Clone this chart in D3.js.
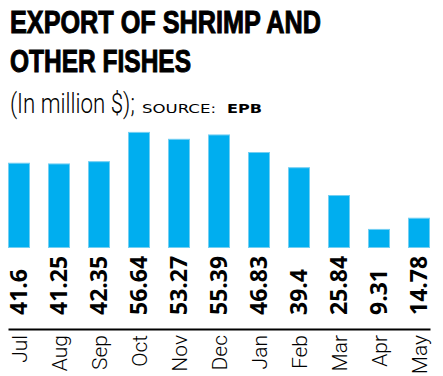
<!DOCTYPE html>
<html><head><meta charset="utf-8">
<script src="https://cdn.jsdelivr.net/npm/d3@7"></script>
<style>
body{margin:0;background:#fff;}
svg{display:block;}
</style></head>
<body>
<svg id="c" width="443" height="376"></svg>
<script>
const months = ["Jul","Aug","Sep","Oct","Nov","Dec","Jan","Feb","Mar","Apr","May"];
const values = [41.6,41.25,42.35,56.64,53.27,55.39,46.83,39.4,25.84,9.31,14.78];
const valueLabels = ["41.6","41.25","42.35","56.64","53.27","55.39","46.83","39.4","25.84","9.31","14.78"];
const titleLines = ["EXPORT OF SHRIMP AND","OTHER FISHES"];
const unitText = "(In million $);";
const sourceLabel = "SOURCE:";
const sourceName = "EPB";

const svg = d3.select("#c");
const narrow = "'Liberation Sans Narrow','Liberation Sans',sans-serif";

// title
svg.append("text").attr("x",10).attr("y",33).text(titleLines[0])
  .attr("font-family",narrow).attr("font-weight","bold").attr("font-size",31)
  .attr("stroke","#000").attr("stroke-width",1)
  .attr("textLength",311).attr("lengthAdjust","spacingAndGlyphs");
svg.append("text").attr("x",10).attr("y",72).text(titleLines[1])
  .attr("font-family",narrow).attr("font-weight","bold").attr("font-size",31)
  .attr("stroke","#000").attr("stroke-width",1)
  .attr("textLength",181).attr("lengthAdjust","spacingAndGlyphs");

// subtitle: condensed by scaling a smaller font vertically
const sub = svg.append("text").attr("transform","translate(10,113) scale(1,1.2)")
  .attr("font-family","Roboto,sans-serif").attr("font-weight",300).attr("font-size",22.3)
  .text(unitText);
const w = sub.node().getComputedTextLength();
if (w > 128) sub.attr("textLength",127).attr("lengthAdjust","spacingAndGlyphs");

svg.append("text").attr("x",142).attr("y",113).text(sourceLabel)
  .attr("font-family","'DejaVu Sans',sans-serif").attr("font-size",12.5)
  .attr("textLength",74).attr("lengthAdjust","spacingAndGlyphs");
svg.append("text").attr("x",227).attr("y",113).text(sourceName)
  .attr("font-family","'DejaVu Sans',sans-serif").attr("font-weight","bold").attr("font-size",12.5)
  .attr("textLength",35).attr("lengthAdjust","spacingAndGlyphs");

const x = d3.scaleBand().domain(months).range([8,430]).paddingInner(0.45).paddingOuter(0);
const y = d3.scaleLinear().domain([0,60]).range([248,125]);

svg.append("g").selectAll("rect").data(values).join("rect")
  .attr("x",(d,i)=>x(months[i])+0.5)
  .attr("y",d=>y(d)+0.5)
  .attr("width",x.bandwidth()-1)
  .attr("height",d=>y(0)-y(d)-1)
  .attr("fill","#00aeef")
  .attr("stroke","#74cff2")
  .attr("stroke-width",1);

svg.append("g").selectAll("text").data(values).join("text")
  .attr("transform",(d,i)=>`translate(${x(months[i])+x.bandwidth()/2},315) rotate(-90)`)
  .attr("dy","0.36em")
  .attr("font-family","'Open Sans',sans-serif").attr("font-weight","bold").attr("font-size",23)
  .attr("fill","#000")
  .text((d,i)=>valueLabels[i]);

const axis = d3.axisBottom(x).tickSize(0).tickSizeOuter(0);
const ag = svg.append("g").attr("transform","translate(0,329)").call(axis);
ag.select(".domain").attr("stroke","#000").attr("stroke-width",2);
ag.selectAll(".tick text")
  .attr("transform","rotate(-90)")
  .attr("x",-6).attr("y",0).attr("dy","0.36em")
  .attr("text-anchor","end")
  .attr("font-family","Roboto,sans-serif").attr("font-weight",300).attr("font-size",21).attr("fill","#000");
</script>
</body></html>
